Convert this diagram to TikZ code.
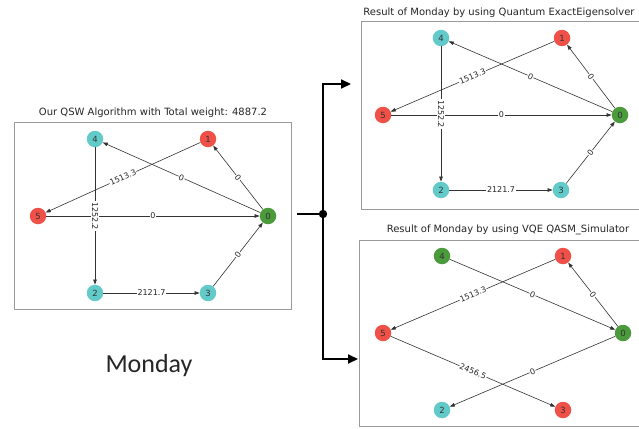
\documentclass[tikz,border=0pt]{standalone}
\usepackage{fontspec}
\setmainfont{DejaVu Sans}
\newfontfamily\mondayfont{Carlito}
\usetikzlibrary{arrows.meta}
\definecolor{nred}{HTML}{EF5148}
\definecolor{nteal}{HTML}{62CBCA}
\definecolor{ngreen}{HTML}{4B9A3B}
\definecolor{boxgray}{HTML}{9A9A9A}
\definecolor{edgegray}{HTML}{333333}
\tikzset{
  gnode/.style={circle, inner sep=0pt, minimum size=16.5pt, font=\fontsize{8.5}{9}\selectfont, text=black!80},
  rednode/.style={gnode, fill=nred},
  tealnode/.style={gnode, fill=nteal},
  greennode/.style={gnode, fill=ngreen},
  gedge/.style={draw=edgegray, line width=0.6pt, -{Triangle[length=5pt,width=3.6pt]}},
  elabel/.style={midway, sloped, fill=white, inner sep=0.6pt, font=\fontsize{8}{9}\selectfont, text=black!85},
  panel/.style={draw=boxgray, line width=0.9pt},
  ptitle/.style={font=\fontsize{10}{11}\selectfont, text=black!85},
  flow/.style={line width=2pt, black},
  flowarrow/.style={flow, -{Triangle[length=10pt,width=9pt]}}
}
\begin{document}
\begin{tikzpicture}[x=1pt, y=-1pt]
\useasboundingbox (0,0) rectangle (639,428);
\clip (0,0) rectangle (639,428);
\fill[white] (0,0) rectangle (639,428);

% ---------- left panel ----------
\draw[panel] (14,122) rectangle (291,309);
\node[ptitle] (tl) at (153,113) {Our QSW Algorithm with Total weight: 4887.2};
\node[greennode] (n0) at (268,216) {0};
\node[rednode]   (n1) at (208,139) {1};
\node[tealnode]  (n2) at (95,293) {2};
\node[tealnode]  (n3) at (208,293) {3};
\node[tealnode]  (n4) at (95,139) {4};
\node[rednode]   (n5) at (38,216) {5};
\draw[gedge] (n0) -- (n4) node[elabel] {0};
\draw[gedge] (n0) -- (n1) node[elabel] {0};
\draw[gedge] (n1) -- (n5) node[elabel] {1513.3};
\draw[gedge] (n5) -- (n0) node[elabel] {0};
\draw[gedge] (n4) -- (n2) node[elabel] {1252.2};
\draw[gedge] (n2) -- (n3) node[elabel] {2121.7};
\draw[gedge] (n3) -- (n0) node[elabel] {0};

\node[font=\mondayfont\fontsize{26}{29}\selectfont, text=black!85] (mon) at (149,366) {Monday};

% ---------- top right panel ----------
\draw[panel] (361,21) rectangle (650,209);
\node[ptitle] (tt) at (499,13) {Result of Monday by using Quantum ExactEigensolver};
\node[greennode] (a0) at (620,115) {0};
\node[rednode]   (a1) at (562,38) {1};
\node[tealnode]  (a2) at (441,190) {2};
\node[tealnode]  (a3) at (561,190) {3};
\node[tealnode]  (a4) at (441,38) {4};
\node[rednode]   (a5) at (383,115) {5};
\draw[gedge] (a0) -- (a4) node[elabel] {0};
\draw[gedge] (a0) -- (a1) node[elabel] {0};
\draw[gedge] (a1) -- (a5) node[elabel] {1513.3};
\draw[gedge] (a5) -- (a0) node[elabel] {0};
\draw[gedge] (a4) -- (a2) node[elabel] {1252.2};
\draw[gedge] (a2) -- (a3) node[elabel] {2121.7};
\draw[gedge] (a3) -- (a0) node[elabel] {0};

% ---------- bottom right panel ----------
\draw[panel] (359,240) rectangle (650,426);
\node[ptitle] (tb) at (508,230) {Result of Monday by using VQE QASM\_Simulator};
\node[greennode] (b0) at (623,333) {0};
\node[rednode]   (b1) at (563,256) {1};
\node[tealnode]  (b2) at (442,410) {2};
\node[rednode]   (b3) at (563,410) {3};
\node[greennode] (b4) at (442,256) {4};
\node[rednode]   (b5) at (383,333) {5};
\draw[gedge] (b0) -- (b1) node[elabel] {0};
\draw[gedge] (b1) -- (b5) node[elabel] {1513.3};
\draw[gedge] (b4) -- (b0) node[elabel] {0};
\draw[gedge] (b5) -- (b3) node[elabel] {2456.5};
\draw[gedge] (b0) -- (b2) node[elabel] {0};

% ---------- flow connectors ----------
\coordinate (fs) at (297,214);
\coordinate (fj) at (323,214);
\coordinate (ft) at (351,84);
\coordinate (fb) at (358,359);
\draw[flow] (fs) -- (fj);
\draw[flowarrow] (fj) |- (ft);
\draw[flowarrow] (fj) |- (fb);
\fill[black] (fj) circle (4.2pt);
\end{tikzpicture}
\end{document}
